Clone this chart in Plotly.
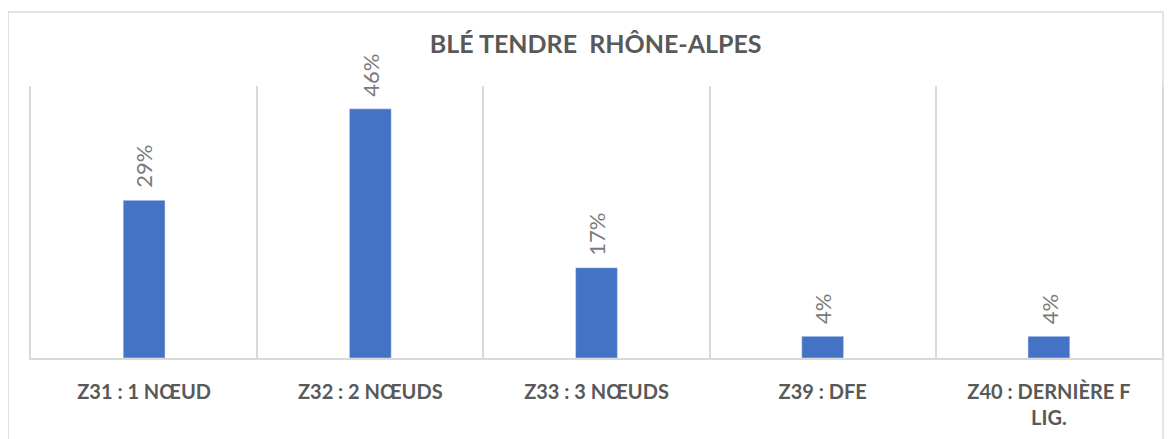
import plotly.graph_objects as go

categories = ["Z31 : 1 NŒUD", "Z32 : 2 NŒUDS", "Z33 : 3 NŒUDS", "Z39 : DFE", "Z40 : DERNIÈRE F<br>LIG."]
values = [0.29, 0.458, 0.166, 0.04, 0.04]
labels = ["29%", "46%", "17%", "4%", "4%"]
title_text = "BLÉ TENDRE  RHÔNE-ALPES"

fig = go.Figure()
fig.add_trace(go.Bar(
    x=categories, y=values, marker_color="#4472C4", width=0.185,
    hoverinfo="skip",
))

for c, v, t in zip(categories, values, labels):
    fig.add_annotation(x=c, y=v, text=t, showarrow=False, textangle=-90,
                       yanchor="bottom", yshift=10,
                       font=dict(family="Lato", size=22, color="#7A7A7A"))

fig.add_shape(type="rect", xref="paper", yref="paper",
              x0=-0.0203, x1=1.0009, y0=-0.5, y1=1.272,
              line=dict(color="#D9D9D9", width=1.5), layer="below")

fig.update_layout(
    width=1173, height=439,
    margin=dict(l=23, r=19, t=78, b=89, autoexpand=False),
    paper_bgcolor="white", plot_bgcolor="white",
    showlegend=False,
    title=dict(text=title_text, x=0.501, xanchor="center", y=0.918, yanchor="middle",
               font=dict(family="Lato", size=25, color="#595959", weight="bold")),
    xaxis=dict(type="category", tickson="boundaries", showgrid=True, gridcolor="#D9D9D9",
               gridwidth=1.5, showline=True, linecolor="#D9D9D9", linewidth=1.5,
               ticks="", ticklabelstandoff=15, automargin=False,
               tickfont=dict(family="Lato", size=20, color="#595959", weight="bold")),
    yaxis=dict(range=[0, 0.5], showgrid=False, showticklabels=False, zeroline=False,
               showline=True, mirror=True, linecolor="#D9D9D9", linewidth=1.5,
               automargin=False),
)

fig.write_html("out.html")
